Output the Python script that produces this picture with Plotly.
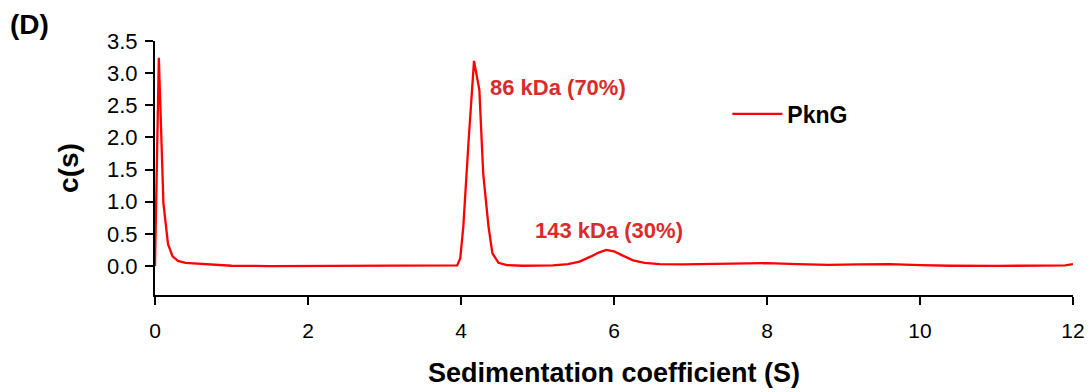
import plotly.graph_objects as go

# Sedimentation coefficient (S) and c(s) values
s_values = [0, 0.05, 0.11, 0.17, 0.23, 0.30, 0.40, 0.55, 0.72, 0.85, 1.0, 1.5, 2.0, 2.5, 3.0, 3.5,
            3.85, 3.95, 3.99, 4.03, 4.10, 4.17, 4.24, 4.29, 4.36, 4.41, 4.49, 4.6, 4.8, 5.0,
            5.2, 5.4, 5.55, 5.7, 5.8, 5.9, 6.0, 6.1, 6.25, 6.4, 6.6, 6.9, 7.2, 7.5, 7.75,
            8.0, 8.4, 8.8, 9.2, 9.6, 10.0, 10.4, 11.0, 11.5, 11.9, 12.0]
c_values = [0, 3.24, 0.98, 0.34, 0.15, 0.08, 0.05, 0.04, 0.03, 0.015, 0.005, 0, 0, 0, 0, 0,
            0, 0.01, 0.12, 0.61, 1.96, 3.19, 2.74, 1.44, 0.61, 0.20, 0.05, 0.015, 0.005, 0.005,
            0.01, 0.03, 0.07, 0.15, 0.21, 0.25, 0.23, 0.17, 0.09, 0.05, 0.03, 0.025, 0.03, 0.04, 0.05,
            0.045, 0.03, 0.02, 0.025, 0.03, 0.015, 0.005, 0.003, 0.003, 0.01, 0.03]
series_name = "PknG"
x_ticks = [0, 2, 4, 6, 8, 10, 12]
y_ticks = [0, 0.5, 1.0, 1.5, 2.0, 2.5, 3.0, 3.5]
peak_labels = ["86 kDa (70%)", "143 kDa (30%)"]
peak_label_pos = [(4.35, 2.78), (4.94, 0.56)]

FONT = "Liberation Sans, Arial, sans-serif"
LABEL_RED = "#d92b2b"

fig = go.Figure()
fig.add_trace(go.Scatter(x=s_values, y=c_values, mode="lines", name=series_name,
                         line=dict(color="#ff0000", width=2.3)))

for txt, (px, py) in zip(peak_labels, peak_label_pos):
    fig.add_annotation(x=px, y=py, xref="x", yref="y", text=f"<b>{txt}</b>", showarrow=False,
                       xanchor="left", yanchor="middle",
                       font=dict(family=FONT, size=22, color=LABEL_RED))

fig.add_annotation(x=-0.137, y=1.063, xref="paper", yref="paper", text="<b>(D)</b>",
                   showarrow=False, xanchor="center", yanchor="middle",
                   font=dict(family=FONT, size=28, color="black"))

# page body has an 8px default margin, so the figure is 8px smaller and margins shifted
fig.update_layout(
    width=1084, height=384,
    margin=dict(l=147, r=19, t=33, b=97),
    paper_bgcolor="white", plot_bgcolor="white",
    font=dict(family=FONT, color="black"),
    showlegend=True,
    legend=dict(x=0.6235, y=0.713, xanchor="left", yanchor="middle",
                font=dict(family=FONT, size=23, color="black", weight="bold"),
                bgcolor="rgba(0,0,0,0)", itemwidth=50),
    xaxis=dict(range=[0, 12], tickvals=x_ticks, ticks="outside", ticklen=8, tickwidth=1.5,
               tickcolor="black", showline=True, linecolor="black", linewidth=2,
               showgrid=False, zeroline=False, ticklabelstandoff=8, automargin=False,
               tickfont=dict(family=FONT, size=21, color="black"),
               title=dict(text="<b>Sedimentation coefficient (S)</b>", standoff=22,
                          font=dict(family=FONT, size=27, color="black"))),
    yaxis=dict(range=[-0.45, 3.5], tickvals=y_ticks, tickformat=".1f", ticks="outside",
               ticklen=8, tickwidth=1.5, tickcolor="black", showline=True, linecolor="black",
               linewidth=2, showgrid=False, zeroline=False, ticklabelstandoff=3, automargin=False,
               tickfont=dict(family=FONT, size=22, color="black"),
               title=dict(text="<b>c(s)</b>", standoff=20,
                          font=dict(family=FONT, size=28, color="black"))),
)

fig.write_html("out.html")
